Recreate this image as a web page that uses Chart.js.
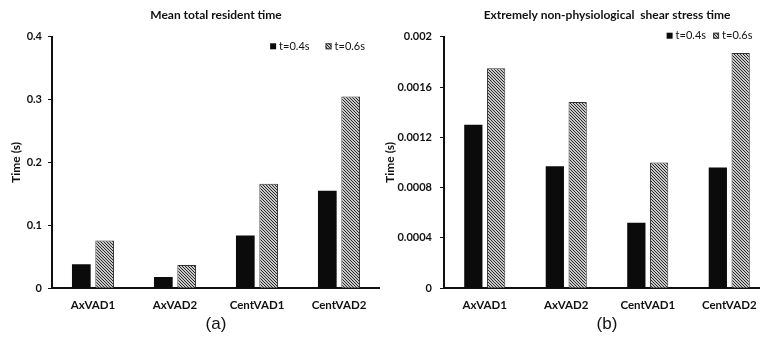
<!DOCTYPE html>
<html>
<head>
<meta charset="utf-8">
<script src="https://cdn.jsdelivr.net/npm/chart.js@4.4.1/dist/chart.umd.min.js"></script>
<style>
  html, body { margin: 0; padding: 0; background: #fff; overflow: hidden; }
  .painel { position: absolute; top: 0; height: 339px; }
  #painelA { left: 0; width: 380px; }
  #painelB { left: 380px; width: 390px; }
</style>
</head>
<body>
<div class="painel" id="painelA"><canvas id="graficoResidente"></canvas></div>
<div class="painel" id="painelB"><canvas id="graficoTensao"></canvas></div>
<script>
/* DADOS */
const categorias = ['AxVAD1', 'AxVAD2', 'CentVAD1', 'CentVAD2'];
const series = ['t=0.4s', 't=0.6s'];

const residente04 = [0.038, 0.018, 0.084, 0.155];
const residente06 = [0.076, 0.037, 0.166, 0.305];

const tensao04 = [0.0013, 0.00097, 0.00052, 0.00096];
const tensao06 = [0.00175, 0.00148, 0.001, 0.00187];

const ticksResidente = [0, 0.1, 0.2, 0.3, 0.4];
const ticksResidenteTexto = ['0', '0.1', '0.2', '0.3', '0.4'];
const ticksTensao = [0, 0.0004, 0.0008, 0.0012, 0.0016, 0.002];
const ticksTensaoTexto = ['0', '0.0004', '0.0008', '0.0012', '0.0016', '0.002'];

Chart.defaults.font.family = 'Lato, "Open Sans", sans-serif';
Chart.defaults.color = '#111';

const preto = '#0b0b0b';

// hachurado diagonal fino das barras t=0.6s
function hachurado() {
    const c = document.createElement('canvas');
    c.width = 3; c.height = 3;
    const g = c.getContext('2d');
    g.fillStyle = '#c8c8c8';
    g.fillRect(0, 0, 3, 3);
    g.fillStyle = '#2a2a2a';
    for (let i = 0; i < 3; i++) {
        g.fillRect(i, i, 1, 1);
    }
    return g.createPattern(c, 'repeat');
}
const listras = hachurado();

// legenda pequena dentro da area do grafico (como no original)
const legendaInterna = {
    id: 'legendaInterna',
    afterDraw(chart, args, opts) {
        const ctx = chart.ctx;
        const area = chart.chartArea;
        const box = opts.box;
        ctx.save();
        ctx.font = '11px Lato, "Open Sans", sans-serif';
        ctx.textBaseline = 'middle';
        ctx.textAlign = 'left';
        const itens = chart.data.datasets.map(ds => ({
            ds: ds,
            w: box + opts.spacing + ctx.measureText(ds.label).width
        }));
        let total = itens.reduce((s, it) => s + it.w, 0) + opts.gap * (itens.length - 1);
        let x = area.right - opts.right - total;
        const y = area.top + opts.dy;
        itens.forEach(it => {
            ctx.fillStyle = it.ds.backgroundColor;
            ctx.fillRect(x, y - box / 2, box, box);
            if (it.ds.borderWidth) {
                ctx.strokeStyle = it.ds.borderColor;
                ctx.lineWidth = 1;
                ctx.strokeRect(x + 0.5, y - box / 2 + 0.5, box - 1, box - 1);
            }
            ctx.fillStyle = '#111';
            ctx.fillText(it.ds.label, x + box + opts.spacing, y);
            x += it.w + opts.gap;
        });
        ctx.restore();
    }
};

function eixoY(valores, textos, largura, padTitulo, padTicks) {
    return {
        min: valores[0],
        max: valores[valores.length - 1],
        afterBuildTicks: s => { s.ticks = valores.map(v => ({ value: v })); },
        afterFit: s => { s.width = largura; },
        ticks: {
            callback: (v, i) => textos[i],
            padding: padTicks,
            font: { weight: 'bold', size: 11 }
        },
        grid: { drawOnChartArea: false, drawTicks: true, tickLength: 4, color: '#111', lineWidth: 1 },
        border: { color: '#111', width: 2 },
        title: {
            display: true,
            text: 'Time (s)',
            font: { weight: 'bold', size: 12 },
            padding: { top: padTitulo, bottom: 0 }
        }
    };
}

const eixoX = {
    afterFit: s => { s.height = 23; },
    grid: { display: false, drawTicks: false },
    border: { color: '#111', width: 2 },
    ticks: { padding: 10, font: { weight: 'bold', size: 11.5 } }
};

/* GRAFICO (a) - Mean total resident time */
const graficoResidente = document.getElementById('graficoResidente');

new Chart(graficoResidente, {
    type: 'bar',
    data: {
        labels: categorias,
        datasets: [{
            label: series[0],
            data: residente04,
            backgroundColor: preto,
            borderWidth: 0
        }, {
            label: series[1],
            data: residente06,
            backgroundColor: listras,
            borderColor: '#333',
            borderWidth: 1
        }]
    },
    options: {
        responsive: true,
        maintainAspectRatio: false,
        animation: false,
        categoryPercentage: 0.57,
        barPercentage: 0.8,
        layout: { padding: { left: 4, right: 0, top: 0, bottom: 0 } },
        scales: {
            x: eixoX,
            y: eixoY(ticksResidente, ticksResidenteTexto, 48, 4.5, 6)
        },
        plugins: {
            legend: { display: false },
            tooltip: { enabled: false },
            title: {
                display: true,
                text: 'Mean total resident time',
                font: { weight: 'bold', size: 12 },
                padding: { top: 7.8, bottom: 14.5 },
                fullSize: false
            },
            subtitle: {
                display: true,
                position: 'bottom',
                text: '(a)',
                font: { family: '"Liberation Sans", Arial, sans-serif', size: 17, weight: 'normal' },
                padding: { top: 2.6, bottom: 4.8 },
                fullSize: false
            },
            legendaInterna: { box: 6, spacing: 3, gap: 16, right: 15, dy: 9.6 }
        }
    },
    plugins: [legendaInterna]
});

/* GRAFICO (b) - Extremely non-physiological shear stress time */
const graficoTensao = document.getElementById('graficoTensao');

new Chart(graficoTensao, {
    type: 'bar',
    data: {
        labels: categorias,
        datasets: [{
            label: series[0],
            data: tensao04,
            backgroundColor: preto,
            borderWidth: 0
        }, {
            label: series[1],
            data: tensao06,
            backgroundColor: listras,
            borderColor: '#333',
            borderWidth: 1
        }]
    },
    options: {
        responsive: true,
        maintainAspectRatio: false,
        animation: false,
        categoryPercentage: 0.56,
        barPercentage: 0.8,
        layout: { padding: { left: 0, right: 0, top: 0, bottom: 0 } },
        scales: {
            x: eixoX,
            y: eixoY(ticksTensao, ticksTensaoTexto, 64, 2.5, 8)
        },
        plugins: {
            legend: { display: false },
            tooltip: { enabled: false },
            title: {
                display: true,
                text: 'Extremely non-physiological  shear stress time',
                font: { weight: 'bold', size: 12 },
                padding: { top: 7.8, bottom: 14.5 },
                fullSize: false
            },
            subtitle: {
                display: true,
                position: 'bottom',
                text: '(b)',
                font: { family: '"Liberation Sans", Arial, sans-serif', size: 17, weight: 'normal' },
                padding: { top: 2.6, bottom: 4.8 },
                fullSize: false
            },
            legendaInterna: { box: 6, spacing: 3, gap: 7, right: 17.5, dy: -1 }
        }
    },
    plugins: [legendaInterna]
});
</script>
</body>
</html>
